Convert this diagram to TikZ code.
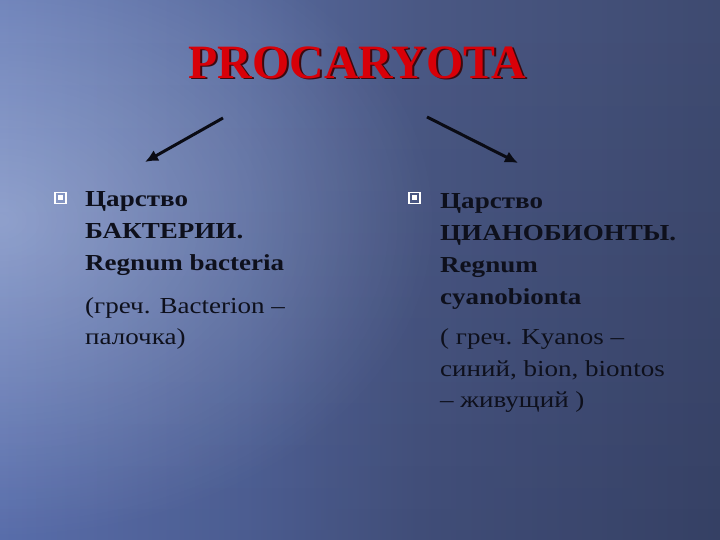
\documentclass[tikz,border=0pt]{standalone}
\usepackage{fontspec}
\setmainfont{Liberation Serif}
\newfontfamily\slidefont[FakeStretch=1.18]{Liberation Serif}
\usetikzlibrary{arrows.meta, positioning, calc}

\definecolor{bgA}{HTML}{6479B4}
\definecolor{bgB}{HTML}{56689C}
\definecolor{bgC}{HTML}{4A5884}
\definecolor{bgD}{HTML}{3E4A70}
\definecolor{titleRed}{HTML}{D80008}
\definecolor{titleShade}{HTML}{3A0A10}
\definecolor{ink}{HTML}{0E101C}
\definecolor{arrowInk}{HTML}{0A0B14}

\pgfdeclarehorizontalshading{slidebg}{100bp}{color(0bp)=(bgA); color(25bp)=(bgA); color(42bp)=(bgB); color(54bp)=(bgC); color(75bp)=(bgD); color(100bp)=(bgD)}

\begin{document}
\begin{tikzpicture}[
        x=1bp, y=1bp,
        headline/.style={font=\fontsize{48}{52}\selectfont\bfseries, inner sep=0pt, anchor=base},
        column/.style={font=\slidefont\fontsize{23}{32}\selectfont, text=ink, align=left, inner sep=0pt, anchor=base west},
        bullet/.style={rectangle, draw=white, line width=1.2bp, minimum size=11bp, inner sep=0pt,
            path picture={\fill[white] ($(path picture bounding box.center)+(-2.5,-2.5)$) rectangle +(5,5);}},
        arrow/.style={-{Latex[length=13bp, width=12bp]}, line width=3bp, draw=arrowInk}
    ]
    % slide background
    \shade[shading=slidebg] (0,0) rectangle (720,540);
    \shade[top color=black!50, middle color=black!50, bottom color=black!60, blend mode=soft light] (0,0) rectangle (720,540);
    \begin{scope}
        \clip (0,0) rectangle (720,540);
        \shade[inner color=black!10, outer color=black!50, blend mode=soft light] (-440,0) rectangle (440,640);
    \end{scope}
    \useasboundingbox (0,0) rectangle (720,540);

    % title with its shadow
    \node (titleShadow) [headline, text=titleShade] at (359.5,460) {PROCARYOTA};
    \node (title) [headline, text=titleRed] at (357.5,461.7) {PROCARYOTA};

    % arrows down to the two kingdoms
    \coordinate (fromL) at (223,422);
    \coordinate (toL) at (145,378);
    \coordinate (fromR) at (427,423);
    \coordinate (toR) at (518,377);
    \draw[arrow] (fromL) -- (toL);
    \draw[arrow] (fromR) -- (toR);

    % left kingdom
    \node (bulletL) [bullet] at (60.5,342) {};
    \node (bactTxt) [column] at (85,195) {\textbf{Царство}\\ \textbf{БАКТЕРИИ.}\\ \textbf{Regnum bacteria}\\[11bp]
        (греч. Bacterion –\\ палочка)};

    % right kingdom
    \node (bulletR) [bullet] at (414.5,342) {};
    \node (cyanoTxt) [column] at (440,132) {\textbf{Царство}\\ \textbf{ЦИАНОБИОНТЫ.}\\ \textbf{Regnum}\\ \textbf{cyanobionta}\\[8bp]
        ( греч. Kyanos –\\ синий, bion, biontos\\ – живущий )};
\end{tikzpicture}
\end{document}
